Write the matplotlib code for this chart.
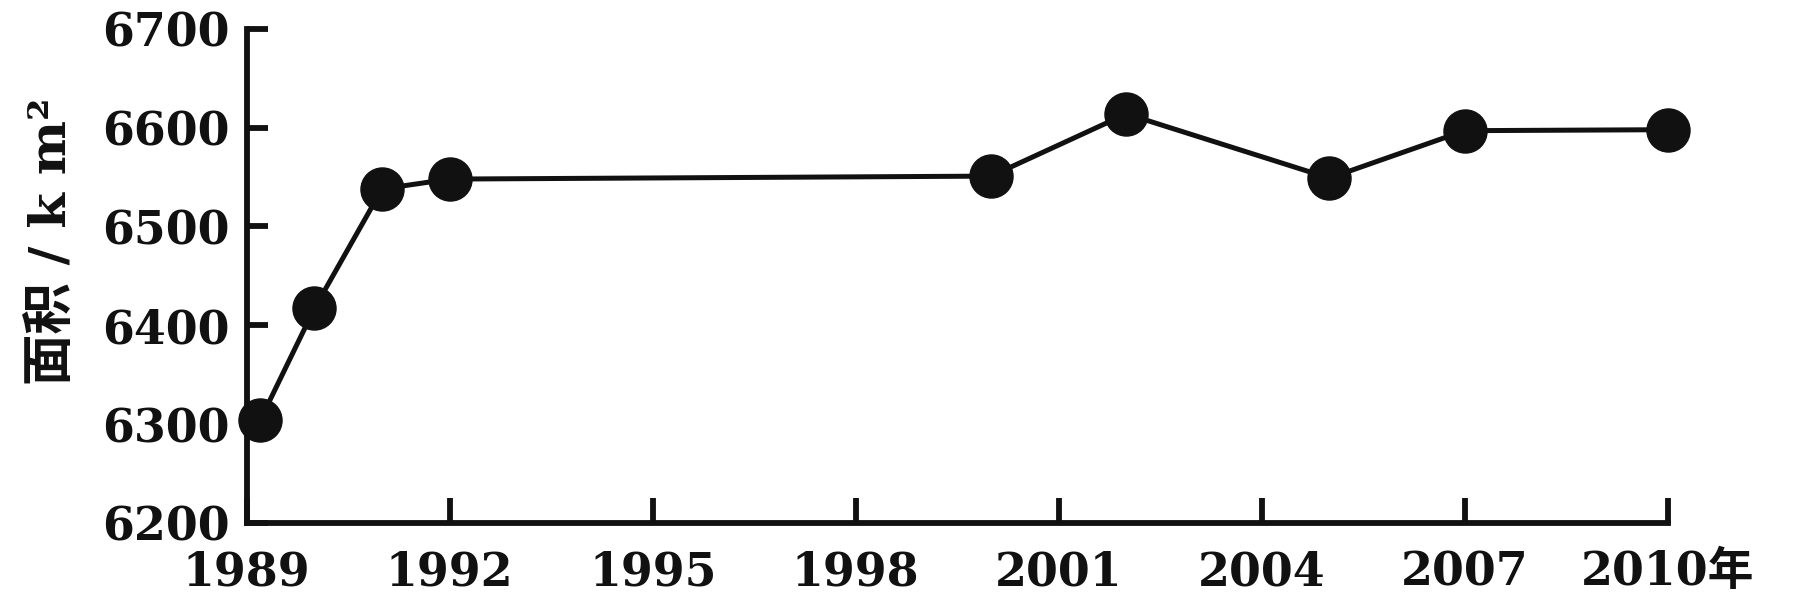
import matplotlib
matplotlib.use('Agg')
import matplotlib.pyplot as plt

# data
years = [1989.2, 1990, 1991, 1992, 2000, 2002, 2005, 2007, 2010]
area = [6304, 6417, 6538, 6548, 6551, 6614, 6549, 6597, 6598]

xticks = [1989, 1992, 1995, 1998, 2001, 2004, 2007, 2010]
xlabels = ['1989', '1992', '1995', '1998', '2001', '2004', '2007', '2010年']
yticks = [6200, 6300, 6400, 6500, 6600, 6700]

fam = ['DejaVu Serif', 'Noto Sans CJK SC']
plt.rcParams['font.family'] = fam
plt.rcParams['font.weight'] = 'bold'

fig = plt.figure(figsize=(18.01, 6.03), dpi=100)
ax = fig.add_axes([0.137, 0.133, 0.789, 0.819])

ax.plot(years, area, '-', color='#111111', linewidth=3.6,
        marker='o', markersize=31, markerfacecolor='#111111',
        markeredgecolor='#111111', clip_on=False, zorder=3)

ax.set_xlim(1989, 2010)
ax.set_ylim(6200, 6700)
ax.set_xticks(xticks)
ax.set_xticklabels(xlabels)
ax.set_yticks(yticks)

for s in ['top', 'right']:
    ax.spines[s].set_visible(False)
for s in ['left', 'bottom']:
    ax.spines[s].set_linewidth(4.2)
    ax.spines[s].set_color('#111111')

ax.tick_params(axis='x', direction='in', length=18, width=4.2, pad=19,
               labelsize=33, colors='#111111')
ax.tick_params(axis='y', direction='in', length=15, width=4.2, pad=12,
               labelsize=33, colors='#111111')
for lab in ax.get_xticklabels() + ax.get_yticklabels():
    lab.set_fontweight('bold')
# the last label with the year sign sits a little to the right
ax.get_xticklabels()[-1].set_x(2010.15)

fig.text(0.029, 0.60, '面积 / k m²', rotation=90, ha='center', va='center',
         fontsize=37, fontweight='bold', family=fam, color='#111111')

fig.savefig('out.png', dpi=100)
